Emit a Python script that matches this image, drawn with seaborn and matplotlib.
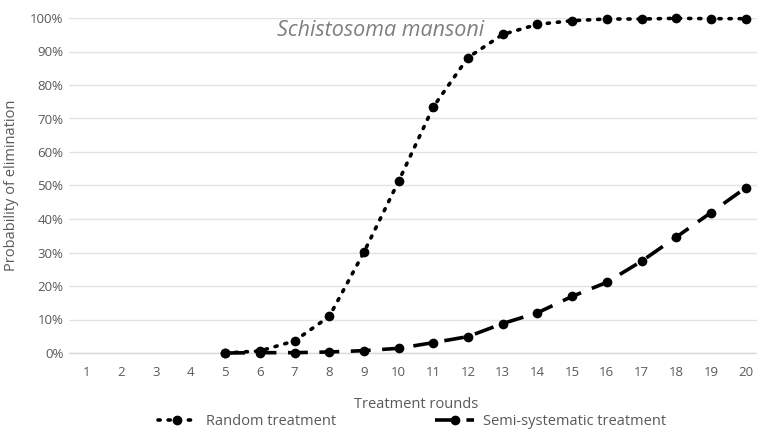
import matplotlib.pyplot as plt
import seaborn as sns
import pandas as pd
from matplotlib.ticker import PercentFormatter, MultipleLocator, FixedLocator

# Values (probability of elimination)
rounds = list(range(1, 21))
random_rounds = list(range(5, 21))
random_prob = [0.000, 0.006, 0.036, 0.109, 0.301, 0.513, 0.735, 0.882, 0.951,
               0.981, 0.992, 0.997, 0.997, 0.999, 0.998, 0.998]
semi_rounds = list(range(5, 21))
semi_prob = [0.000, 0.001, 0.001, 0.003, 0.007, 0.014, 0.031, 0.049, 0.088,
             0.120, 0.169, 0.211, 0.274, 0.346, 0.419, 0.493]

df_random = pd.DataFrame({'round': random_rounds, 'prob': random_prob})
df_semi = pd.DataFrame({'round': semi_rounds, 'prob': semi_prob})

sns.set_style('white')
plt.rcParams['font.family'] = ['Open Sans', 'DejaVu Sans']
grey = '#595959'

fig = plt.figure(figsize=(7.57, 4.30), dpi=100)
ax = fig.add_axes([69 / 757, 77 / 430, 694 / 757, 335 / 430])

sns.lineplot(data=df_random, x='round', y='prob', ax=ax, color='black',
             linestyle=(0, (0.6, 2.2)), dash_capstyle='round', linewidth=2.6,
             marker='o', markersize=7, markeredgewidth=0,
             label='Random treatment', clip_on=False, zorder=3)
sns.lineplot(data=df_semi, x='round', y='prob', ax=ax, color='black',
             linestyle=(0, (5.5, 3.2)), linewidth=2.6,
             marker='o', markersize=7, markeredgewidth=0,
             label='Semi-systematic treatment', clip_on=False, zorder=3)

ax.set_xlim(0.5, 20.5)
ax.set_ylim(0, 1)
ax.yaxis.set_major_locator(MultipleLocator(0.1))
ax.yaxis.set_major_formatter(PercentFormatter(1.0, decimals=0))
ax.xaxis.set_major_locator(FixedLocator(rounds))
ax.xaxis.set_minor_locator(FixedLocator([r - 0.5 for r in rounds] + [20.5]))
ax.grid(axis='y', color='#e3e3e3', linewidth=1)
ax.set_axisbelow(True)

for s in ['top', 'right', 'left']:
    ax.spines[s].set_visible(False)
ax.spines['bottom'].set_color('#d9d9d9')
ax.spines['bottom'].set_linewidth(1)

ax.tick_params(axis='x', which='major', length=0, pad=9, labelsize=9.5, labelcolor=grey)
ax.tick_params(axis='x', which='minor', length=5, color='#d9d9d9', width=1)
ax.tick_params(axis='y', length=0, pad=4, labelsize=9.5, labelcolor=grey)

ax.set_xlabel('Treatment rounds', fontsize=10.5, color=grey, labelpad=13)
ax.set_ylabel('Probability of elimination', fontsize=10.5, color=grey, labelpad=8)

fig.text(381 / 757, 1 - 30 / 430, 'Schistosoma mansoni', fontsize=15.5,
         style='italic', color='#7f7f7f', ha='center', va='center')

leg = fig.legend(*ax.get_legend_handles_labels(), loc='lower center',
                 bbox_to_anchor=(412 / 757, -5 / 430), ncol=2, frameon=False,
                 fontsize=10.5, handlelength=2.7, columnspacing=6.8,
                 handletextpad=0.6, labelcolor=grey, borderaxespad=0)
ax.get_legend().remove()

fig.savefig('out.png', dpi=100)
